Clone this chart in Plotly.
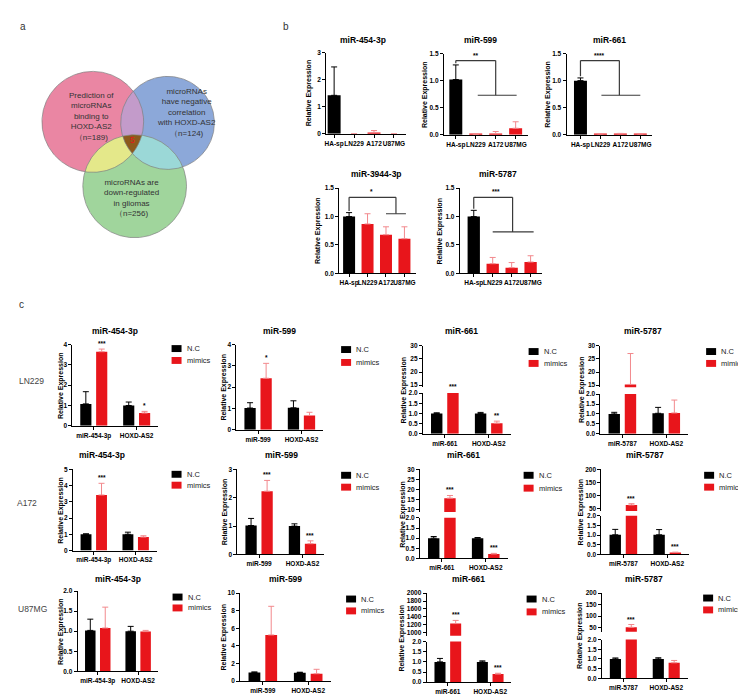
import numpy as np
import plotly.graph_objects as go

W, H = 746, 695
FONT = "Liberation Sans, Arial, Helvetica, sans-serif"
BLACK = "#000000"
RED = "#E8151B"
RED_ERR = "#F2898D"
BRK = "#3a3a3a"

# ---------------- data: panel a (Venn) ----------------
venn_labels = ["Prediction of<br>microRNAs<br>binding to<br>HOXD-AS2",
               "microRNAs<br>have negative<br>correlation<br>with HOXD-AS2",
               "microRNAs are<br>down-regulated<br>in gliomas"]
venn_sizes = [189, 124, 256]
venn_common = 5

# ---------------- data: panel b ----------------
b_cells = ["HA-sp", "LN229", "A172", "U87MG"]
b_mirs = ["miR-454-3p", "miR-599", "miR-661", "miR-3944-3p", "miR-5787"]
b_mean = [[1.42, 0.00, 0.05, 0.00],
          [1.02, 0.005, 0.02, 0.12],
          [1.00, 0.01, 0.015, 0.01],
          [1.00, 0.87, 0.68, 0.61],
          [1.00, 0.17, 0.10, 0.20]]
b_err = [[1.05, 0.00, 0.07, 0.00],
         [0.27, 0.005, 0.04, 0.12],
         [0.05, 0.01, 0.01, 0.01],
         [0.07, 0.18, 0.14, 0.21],
         [0.11, 0.11, 0.09, 0.11]]
b_sig = ["", "**", "****", "*", "***"]
b_yticks = [[0, 1, 2, 3], [0, 0.5, 1.0, 1.5], [0, 0.5, 1.0, 1.5],
            [0, 0.5, 1.0, 1.5], [0, 0.5, 1.0, 1.5]]

# ---------------- data: panel c ----------------
c_cells = ["LN229", "A172", "U87MG"]
c_mirs = ["miR-454-3p", "miR-599", "miR-661", "miR-5787"]
c_target = "HOXD-AS2"
c_series = ["N.C", "mimics"]

LN229_nc_mean = [[1.08, 1.00], [1.02, 1.03], [1.00, 1.00], [1.00, 1.03]]
LN229_nc_err = [[0.60, 0.17], [0.25, 0.33], [0.03, 0.05], [0.08, 0.30]]
LN229_mim_mean = [[3.65, 0.63], [2.42, 0.67], [8.00, 0.52], [15.3, 1.05]]
LN229_mim_err = [[0.13, 0.08], [0.70, 0.15], [0.50, 0.10], [11.7, 0.65]]
LN229_stars = [["***", "*"], ["*", ""], ["***", "**"], ["", ""]]
LN229_yticks = [[0, 1, 2, 3, 4], [0, 1, 2, 3, 4], [15, 20, 25, 30], [15, 20, 25, 30]]

A172_nc_mean = [[1.00, 1.00], [1.02, 1.00], [1.00, 1.00], [1.02, 1.02]]
A172_nc_err = [[0.03, 0.13], [0.25, 0.08], [0.08, 0.03], [0.28, 0.27]]
A172_mim_mean = [[3.42, 0.83], [2.23, 0.38], [15.8, 0.22], [65.0, 0.10]]
A172_mim_err = [[0.72, 0.08], [0.38, 0.10], [1.30, 0.03], [5.0, 0.02]]
A172_stars = [["***", ""], ["***", "***"], ["***", "***"], ["***", "***"]]
A172_yticks = [[0, 1, 2, 3, 4, 5], [0, 1, 2, 3], [10, 15, 20, 25, 30], [50, 100, 150, 200]]

U87_nc_mean = [[1.02, 1.00], [1.00, 0.97], [1.00, 1.00], [1.00, 1.00]]
U87_nc_err = [[0.28, 0.12], [0.05, 0.05], [0.17, 0.05], [0.05, 0.06]]
U87_mim_mean = [[1.08, 0.99], [5.25, 0.85], [1230, 0.40], [52.0, 0.80]]
U87_mim_err = [[0.52, 0.03], [3.25, 0.50], [80, 0.04], [12.0, 0.12]]
U87_stars = [["", ""], ["", ""], ["***", "***"], ["***", ""]]
U87_yticks = [[0, 0.5, 1.0, 1.5, 2.0], [0, 2, 4, 6, 8, 10],
              [1000, 1200, 1400, 1600, 1800, 2000], [50, 100, 150, 200]]

broken_lower_ticks = [0, 0.5, 1.0, 1.5, 2.0]

# ---------------- layout tables (pixel geometry) ----------------
venn_circles = [(83, 111, 51), (158, 112, 47), (125, 176, 52)]
venn_fill = ["#EA86A3", "#8CA8D9", "#A0D59C"]
venn_pair_fill = {(0, 1): "#C39BCA", (0, 2): "#E4E88A", (1, 2): "#9BD8D7"}
venn_triple_fill = "#8C5A1C"
venn_text_pos = [(82, 106), (177, 102), (122, 188)]

b_layout = [
    dict(x0=317, c0=325, s=20, yt=41, yb=123, tx=354, ty=28, ytx=300),
    dict(x0=435, c0=447, s=20, yt=42, yb=124, tx=472, ty=28, ytx=416),
    dict(x0=558, c0=572, s=20, yt=42, yb=124, tx=601, ty=28, ytx=540),
    dict(x0=330, c0=340, s=18.5, yt=178, yb=264, tx=367, ty=164, ytx=309),
    dict(x0=451, c0=465, s=19, yt=178, yb=264, tx=489, ty=164, ytx=431),
]
b_brackets = [None,
              dict(top=1.37, xr=2.0, low=0.73, l0=1.1, l1=3.05, sx=1.0),
              dict(top=1.37, xr=1.95, low=0.73, l0=1.05, l1=3.0, sx=0.95),
              dict(top=1.34, xr=2.54, low=1.05, l0=2.0, l1=3.08, sx=1.24),
              dict(top=1.34, xr=2.05, low=0.73, l0=1.0, l1=3.16, sx=1.15)]

c_layout = [
    [dict(x0=62.5, w=86, seg=(336, 418), tx=105, ty=322, lx=162, ly=(340, 352), ytx=51),
     dict(x0=227, w=87, seg=(336, 422), tx=270, ty=322, lx=332, ly=(341, 354), ytx=215),
     dict(x0=414, w=88, up=(337, 379, 14.25), lo=(385, 426), tx=453, ty=322, lx=520, ly=(343, 355), ytx=395),
     dict(x0=592, w=88, up=(337, 379, 14.25), lo=(386, 426), tx=635, ty=322, lx=698, ly=(343, 355), ytx=573)],
    [dict(x0=63, w=84, seg=(462, 544), tx=92, ty=448, lx=162, ly=(467, 478), ytx=51),
     dict(x0=228, w=87, seg=(462, 548), tx=272, ty=448, lx=332, ly=(468, 480), ytx=215),
     dict(x0=411, w=88, up=(462, 505, 9.0), lo=(511, 552), tx=455, ty=448, lx=515, ly=(468, 481), ytx=394),
     dict(x0=593, w=88, up=(462, 504, 42.5), lo=(509, 548), tx=637, ty=448, lx=696, ly=(468, 480), ytx=572)],
    [dict(x0=67.75, w=81, seg=(585, 666), tx=108, ty=573, lx=163, ly=(591, 602), ytx=51),
     dict(x0=230.75, w=91, seg=(587, 676), tx=276, ty=573, lx=337, ly=(593, 605), ytx=215),
     dict(x0=417.75, w=85, up=(587, 630, 925), lo=(636, 677), tx=460, ty=573, lx=518, ly=(593, 606), ytx=393),
     dict(x0=593.5, w=86, up=(587, 626, 33), lo=(634, 673), tx=636, ty=573, lx=695, ly=(592, 604), ytx=571)],
]
row_label_pos = [(22, 373), (17, 496), (23, 603)]

# ---------------- helpers ----------------
fig = go.Figure()
axes = {}
shapes = []
anns = []


def X(px):
    return px / W


def Y(py):
    return 1 - py / H


AX = dict(showgrid=False, zeroline=False, showline=True, linecolor=BLACK, linewidth=1,
          ticks="outside", ticklen=3, tickwidth=1, tickcolor=BLACK, fixedrange=True,
          tickfont=dict(family=FONT, size=6.5, color=BLACK, weight="bold"))


def fmt(vals):
    if all(float(v).is_integer() for v in vals) and max(vals) > 2:
        return [str(int(v)) for v in vals]
    return [f"{v:.1f}" for v in vals]


def text(t, x, y, size=8, color=BLACK, bold=False, xanchor="center", yanchor="middle",
         angle=0, xref="paper", yref="paper", yshift=0):
    if xref == "paper":
        x = X(x)
    if yref == "paper":
        y = Y(y)
    anns.append(dict(text=t, x=x, y=y, xref=xref, yref=yref, showarrow=False,
                     xanchor=xanchor, yanchor=yanchor, textangle=angle, yshift=yshift,
                     borderpad=0,
                     font=dict(family=FONT, size=size, color=color,
                               weight="bold" if bold else "normal")))


def add_bar(xid, yid, xs, ys, errs, color, ecolor, offset, width):
    fig.add_trace(go.Bar(
        x=xs, y=ys, xaxis=xid, yaxis=yid, offset=offset, width=width,
        marker=dict(color=color, line=dict(width=0)),
        error_y=dict(type="data", symmetric=False, array=errs, arrayminus=[0] * len(errs),
                     color=ecolor, thickness=1, width=3),
        showlegend=False, hoverinfo="skip"))


counter = {"n": 1, "u": 40}


def new_id():
    counter["n"] += 1
    return counter["n"]


# ---------------- panel a: Venn ----------------
axes["xaxis"] = dict(domain=[0, X(250)], range=[0, 250], visible=False, fixedrange=True)
axes["yaxis"] = dict(domain=[Y(250), 1], range=[250, 0], visible=False, fixedrange=True)


def circle_pts(c, n=1500):
    t = np.linspace(0, 2 * np.pi, n, endpoint=False)
    return np.column_stack([c[0] + c[2] * np.cos(t), c[1] + c[2] * np.sin(t)])


def inside(p, c):
    return (p[:, 0] - c[0]) ** 2 + (p[:, 1] - c[1]) ** 2 <= c[2] ** 2 + 1e-9


def region(cs):
    pts = []
    for i, c in enumerate(cs):
        p = circle_pts(c)
        m = np.ones(len(p), bool)
        for j, d in enumerate(cs):
            if j != i:
                m &= inside(p, d)
        pts.append(p[m])
    P = np.vstack(pts)
    cen = P.mean(axis=0)
    ang = np.arctan2(P[:, 1] - cen[1], P[:, 0] - cen[0])
    return P[np.argsort(ang)]


def poly(P, color):
    fig.add_trace(go.Scatter(x=np.append(P[:, 0], P[0, 0]), y=np.append(P[:, 1], P[0, 1]),
                             mode="lines", fill="toself", fillcolor=color,
                             line=dict(width=0, color=color), xaxis="x", yaxis="y",
                             showlegend=False, hoverinfo="skip"))


for c, col in zip(venn_circles, venn_fill):
    poly(region([c]), col)
for (i, j), col in venn_pair_fill.items():
    poly(region([venn_circles[i], venn_circles[j]]), col)
poly(region(venn_circles), venn_triple_fill)
for c in venn_circles:
    P = circle_pts(c, 400)
    fig.add_trace(go.Scatter(x=np.append(P[:, 0], P[0, 0]), y=np.append(P[:, 1], P[0, 1]),
                             mode="lines", line=dict(width=0.7, color="#808080"),
                             xaxis="x", yaxis="y", showlegend=False, hoverinfo="skip"))
for lab, size, (tx, ty) in zip(venn_labels, venn_sizes, venn_text_pos):
    text(f"{lab}<br>（n={size})", tx, ty, size=8, color="#333333", xref="x", yref="y")
text(str(venn_common), 123, 129, size=8.5, color="#E8151B", xref="x", yref="y")

text("a", 13, 15, size=10, color="#333333")
text("b", 277, 15, size=10, color="#333333")
text("c", 12, 295, size=10, color="#333333")

# ---------------- panel b ----------------
for k in range(5):
    g = b_layout[k]
    n = new_id()
    xid, yid = f"x{n}", f"y{n}"
    left = -(g["c0"] - g["x0"]) / g["s"]
    right = 3.6
    xw = (right - left) * g["s"]
    axes[f"xaxis{n}"] = dict(AX, domain=[X(g["x0"]), X(g["x0"] + xw)], range=[left, right],
                             anchor=yid, tickvals=list(range(4)), ticktext=b_cells, tickangle=0)
    yt = b_yticks[k]
    axes[f"yaxis{n}"] = dict(AX, domain=[Y(g["yb"]), Y(g["yt"])], range=[0, max(yt)],
                             anchor=xid, tickvals=yt, ticktext=fmt(yt))
    add_bar(xid, yid, [0], [b_mean[k][0]], [b_err[k][0]], BLACK, BLACK, -0.325, 0.65)
    add_bar(xid, yid, [1, 2, 3], b_mean[k][1:], b_err[k][1:], RED, RED_ERR, -0.325, 0.65)
    text(b_mirs[k], g["tx"], g["ty"], size=8.5, bold=True)
    text("Relative Expression", g["ytx"], (g["yt"] + g["yb"]) / 2, size=7, bold=True, angle=-90)
    br = b_brackets[k]
    if br:
        y0 = b_mean[k][0] + b_err[k][0] + 0.03
        segs = [(0, y0, 0, br["top"]), (0, br["top"], br["xr"], br["top"]),
                (br["xr"], br["top"], br["xr"], br["low"]), (br["l0"], br["low"], br["l1"], br["low"])]
        for (a0, b0, a1, b1) in segs:
            shapes.append(dict(type="line", xref=xid, yref=yid, x0=a0, y0=b0, x1=a1, y1=b1,
                               line=dict(color=BRK, width=1.2)))
        text(b_sig[k], br["sx"], br["top"], size=6.5, bold=True, xref=xid, yref=yid,
             yanchor="bottom", yshift=1)

# ---------------- panel c ----------------
rows = [
    (LN229_nc_mean, LN229_nc_err, LN229_mim_mean, LN229_mim_err, LN229_stars, LN229_yticks),
    (A172_nc_mean, A172_nc_err, A172_mim_mean, A172_mim_err, A172_stars, A172_yticks),
    (U87_nc_mean, U87_nc_err, U87_mim_mean, U87_mim_err, U87_stars, U87_yticks),
]
OFF_NC, OFF_MIM, BW = -0.315, 0.055, 0.26

for r, (ncm, nce, mm, me, stars, yticks) in enumerate(rows):
    text(c_cells[r], *row_label_pos[r], size=8.5, color="#444444")
    for c in range(4):
        g = c_layout[r][c]
        n = new_id()
        xid, yid = f"x{n}", f"y{n}"
        axes[f"xaxis{n}"] = dict(AX, domain=[X(g["x0"]), X(g["x0"] + g["w"])], range=[-0.5, 1.5],
                                 anchor=yid, tickvals=[0, 1], ticktext=[c_mirs[c], c_target],
                                 tickangle=0)
        yt = yticks[c]
        ylist = []
        if "seg" in g:
            top, bot = g["seg"]
            axes[f"yaxis{n}"] = dict(AX, domain=[Y(bot), Y(top)], range=[0, max(yt)],
                                     anchor=xid, tickvals=yt, ticktext=fmt(yt))
            ylist.append(yid)
            ytitle_c = (top + bot) / 2
        else:
            ut, ub, umin = g["up"]
            lt, lb = g["lo"]
            axes[f"yaxis{n}"] = dict(AX, domain=[Y(lb), Y(lt)], range=[0, 2.0], anchor=xid,
                                     tickvals=broken_lower_ticks, ticktext=fmt(broken_lower_ticks))
            counter["u"] += 1
            u = counter["u"]
            uid = f"y{u}"
            axes[f"yaxis{u}"] = dict(AX, domain=[Y(ub), Y(ut)], range=[umin, max(yt)], anchor=xid,
                                     tickvals=yt, ticktext=fmt(yt))
            ylist += [yid, uid]
            ytitle_c = (ut + lb) / 2
        for ya in ylist:
            add_bar(xid, ya, [0, 1], ncm[c], nce[c], BLACK, BLACK, OFF_NC, BW)
            add_bar(xid, ya, [0, 1], mm[c], me[c], RED, RED_ERR, OFF_MIM, BW)
        # significance stars on mimics bars
        for gi in range(2):
            s = stars[c][gi]
            if not s:
                continue
            topv = mm[c][gi] + me[c][gi]
            sx = gi + OFF_MIM + BW / 2
            if "seg" in g or topv <= 2.0:
                text(s, sx, topv, size=6.5, bold=True, xref=xid, yref=yid, yanchor="bottom", yshift=1)
            elif topv >= g["up"][2]:
                text(s, sx, topv, size=6.5, bold=True, xref=xid, yref=ylist[1], yanchor="bottom", yshift=1)
            else:
                text(s, sx, 2.0, size=6.5, bold=True, xref=xid, yref=yid, yanchor="bottom", yshift=2)
        text(c_mirs[c], g["tx"], g["ty"], size=8.5, bold=True)
        text("Relative Expression", g["ytx"], ytitle_c, size=7, bold=True, angle=-90)
        # legend
        for name, col, ly in zip(c_series, [BLACK, RED], g["ly"]):
            shapes.append(dict(type="rect", xref="paper", yref="paper",
                               x0=X(g["lx"]), x1=X(g["lx"] + 10), y0=Y(ly + 3.5), y1=Y(ly - 3.5),
                               fillcolor=col, line=dict(width=0)))
            text(name, g["lx"] + 14, ly, size=7.5, color="#222222", xanchor="left")

fig.update_layout(
    width=W, height=H, autosize=False,
    margin=dict(l=0, r=0, t=0, b=0),
    paper_bgcolor="white", plot_bgcolor="white",
    showlegend=False, hovermode=False,
    shapes=shapes, annotations=anns,
    font=dict(family=FONT, color=BLACK),
    **axes,
)

fig.write_html("out.html", config={"displayModeBar": False})
